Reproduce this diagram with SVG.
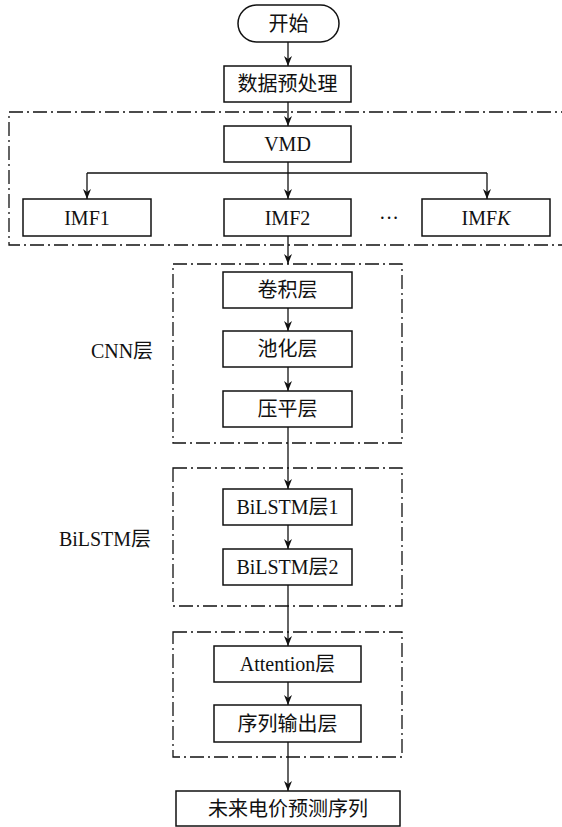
<svg xmlns="http://www.w3.org/2000/svg" width="562" height="827" viewBox="0 0 562 827">
<defs>
<marker id="arr" viewBox="0 0 10 10" refX="10" refY="5" markerWidth="10" markerHeight="8" markerUnits="userSpaceOnUse" orient="auto" preserveAspectRatio="none">
<path d="M0,0 L10,5 L0,10 L3,5 Z" fill="#111"/>
</marker>
</defs>
<style>
.box{fill:#fff;stroke:#111;stroke-width:1.5}
.grp{fill:none;stroke:#111;stroke-width:1.3;stroke-dasharray:14 4 2 4}
.t{font-family:"Liberation Serif","Noto Sans CJK SC",serif;font-size:20px;fill:#111;text-anchor:middle;dominant-baseline:central}
.c{fill:none;stroke:#111;stroke-width:1.3}
.a{marker-end:url(#arr)}
</style>
<rect width="562" height="827" fill="#fff"/>
<g id="groups">
<path class="grp" d="M575,112 H9 V245 H575"/>
<rect class="grp" x="173" y="264" width="229" height="179"/>
<rect class="grp" x="173" y="468" width="229" height="138"/>
<rect class="grp" x="173" y="632" width="229" height="125"/>
</g>
<g id="connectors">
<path class="c a" d="M288,42 V66"/>
<path class="c a" d="M288,102 V126"/>
<path class="c a" d="M288,162 V199"/>
<path class="c" d="M87,173 H487"/>
<path class="c a" d="M87,173 V199"/>
<path class="c a" d="M487,173 V199"/>
<path class="c a" d="M288,236 V264"/>
<path class="c a" d="M288,308 V331"/>
<path class="c a" d="M288,367 V391"/>
<path class="c a" d="M288,427 V489"/>
<path class="c a" d="M288,525 V549"/>
<path class="c a" d="M288,585 V646"/>
<path class="c a" d="M288,682 V705"/>
<path class="c a" d="M288,742 V791"/>
</g>
<g id="start"><rect class="box" x="238" y="5" width="101" height="37" rx="18.5"/><text class="t" x="288.5" y="23.5">开始</text></g>
<g id="preprocess"><rect class="box" x="224" y="66" width="127" height="36"/><text class="t" x="287.5" y="84">数据预处理</text></g>
<g id="vmd"><rect class="box" x="224" y="126" width="127" height="36"/><text class="t" x="287.5" y="144">VMD</text></g>
<g id="imf1"><rect class="box" x="23" y="199" width="128" height="37"/><text class="t" x="87" y="217.5">IMF1</text></g>
<g id="imf2"><rect class="box" x="224" y="199" width="127" height="37"/><text class="t" x="287.5" y="217.5">IMF2</text></g>
<g id="dots"><text class="t" x="389" y="217.5">···</text></g>
<g id="imfk"><rect class="box" x="422" y="199" width="128" height="37"/><text class="t" x="486" y="217.5">IMF<tspan font-style="italic">K</tspan></text></g>
<g id="cnn-label"><text class="t" x="122" y="351">CNN层</text></g>
<g id="conv"><rect class="box" x="223" y="272" width="129" height="36"/><text class="t" x="287.5" y="290">卷积层</text></g>
<g id="pool"><rect class="box" x="223" y="331" width="129" height="36"/><text class="t" x="287.5" y="349">池化层</text></g>
<g id="flatten"><rect class="box" x="223" y="391" width="129" height="36"/><text class="t" x="287.5" y="409">压平层</text></g>
<g id="bilstm-label"><text class="t" x="105" y="539">BiLSTM层</text></g>
<g id="bilstm1"><rect class="box" x="223" y="489" width="129" height="36"/><text class="t" x="287.5" y="507">BiLSTM层1</text></g>
<g id="bilstm2"><rect class="box" x="223" y="549" width="129" height="36"/><text class="t" x="287.5" y="567">BiLSTM层2</text></g>
<g id="attention"><rect class="box" x="214" y="646" width="147" height="36"/><text class="t" x="287.5" y="664">Attention层</text></g>
<g id="seqout"><rect class="box" x="214" y="705" width="147" height="37"/><text class="t" x="287.5" y="723.5">序列输出层</text></g>
<g id="result"><rect class="box" x="176" y="791" width="224" height="35"/><text class="t" x="288" y="808.5">未来电价预测序列</text></g>
</svg>
